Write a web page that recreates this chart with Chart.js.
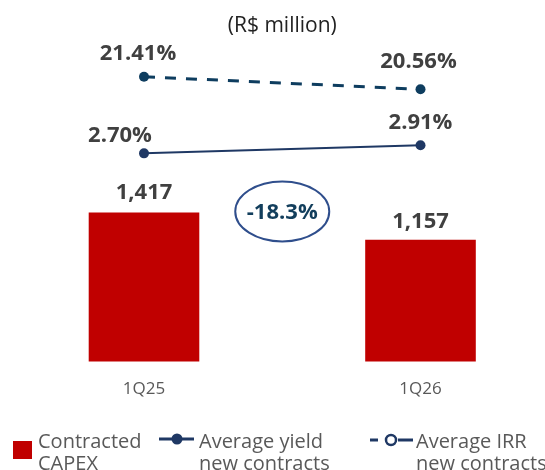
<!DOCTYPE html>
<html>
<head>
<meta charset="utf-8">
<script src="https://cdn.jsdelivr.net/npm/chart.js@4/dist/chart.umd.min.js"></script>
<style>
  html, body { margin: 0; padding: 0; background: #ffffff; }
  #wrap { width: 545px; height: 470px; position: relative; }
</style>
</head>
<body>
<div id="wrap"><canvas id="c"></canvas></div>
<script>
// Quarters compared
const categories = ['1Q25', '1Q26'];
// Contracted CAPEX, R$ million
const capex = [1417, 1157];
// Average yield of new contracts, %
const yieldPct = [2.70, 2.91];
// Average IRR of new contracts, %
const irrPct = [21.41, 20.56];
// Legend captions (two lines each)
const seriesNames = [['Contracted', 'CAPEX'], ['Average yield', 'new contracts'], ['Average IRR', 'new contracts']];

const FONT = '"Open Sans", "Noto Sans", sans-serif';
const RED = '#C00000';
const NAVY = '#1F3864';
const TEAL = '#0E3D5F';
const LABEL = '#404040';
const GREY = '#595959';

const fmtInt = v => v.toLocaleString('en-US');
const fmtPct = v => v.toFixed(2) + '%';

// Value labels above bars and points, with per-point nudges
const valueLabels = {
  id: 'valueLabels',
  afterDatasetsDraw(chart) {
    const { ctx } = chart;
    ctx.save();
    ctx.font = 'bold 22px ' + FONT;
    ctx.fillStyle = LABEL;
    ctx.textAlign = 'center';
    ctx.textBaseline = 'middle';
    chart.data.datasets.forEach((ds, di) => {
      const meta = chart.getDatasetMeta(di);
      const nudge = ds.labelNudge || [];
      meta.data.forEach((el, i) => {
        const [dx, dy] = nudge[i] || [0, -20];
        ctx.fillText(ds.formatter(ds.data[i]), el.x + dx, el.y + dy);
      });
    });
    ctx.restore();
  }
};

// Oval badge with the CAPEX change between the two quarters
const changeBadge = {
  id: 'changeBadge',
  afterDatasetsDraw(chart) {
    const { ctx } = chart;
    const x = chart.scales.x;
    const y = chart.scales.y;
    const cx = (x.getPixelForValue(0) + x.getPixelForValue(1)) / 2;
    const cy = y.getPixelForValue(Math.max(...capex)) - 1;
    const change = (capex[1] / capex[0] - 1) * 100;
    ctx.save();
    ctx.beginPath();
    ctx.ellipse(cx, cy, 47, 30, 0, 0, Math.PI * 2);
    ctx.lineWidth = 2;
    ctx.strokeStyle = '#2F4E8C';
    ctx.stroke();
    ctx.font = 'bold 22px ' + FONT;
    ctx.fillStyle = '#123E5C';
    ctx.textAlign = 'center';
    ctx.textBaseline = 'middle';
    ctx.fillText(change.toFixed(1) + '%', cx, cy + 1);
    ctx.restore();
  }
};

// Legend row along the bottom edge
const bottomLegend = {
  id: 'bottomLegend',
  afterDraw(chart) {
    const { ctx } = chart;
    const ds = chart.data.datasets;
    ctx.save();
    ctx.font = '20px ' + FONT;
    ctx.textAlign = 'left';
    ctx.textBaseline = 'alphabetic';
    const lines = (lbl, tx) => {
      ctx.fillStyle = GREY;
      ctx.fillText(lbl[0], tx, 448);
      ctx.fillText(lbl[1], tx, 470);
    };
    // bar swatch
    ctx.fillStyle = ds[0].backgroundColor;
    ctx.fillRect(13, 441, 19, 18);
    lines(seriesNames[0], 38);

    // solid line with filled marker
    ctx.strokeStyle = ds[1].borderColor;
    ctx.lineWidth = 3;
    ctx.beginPath(); ctx.moveTo(159, 439); ctx.lineTo(194, 439); ctx.stroke();
    ctx.beginPath(); ctx.arc(177, 439, 5.5, 0, Math.PI * 2);
    ctx.fillStyle = ds[1].borderColor; ctx.fill();
    lines(seriesNames[1], 199);

    // dashed line with open marker
    ctx.strokeStyle = NAVY;
    ctx.lineWidth = 3;
    ctx.beginPath(); ctx.moveTo(370, 440); ctx.lineTo(378, 440); ctx.stroke();
    ctx.beginPath(); ctx.moveTo(398, 440); ctx.lineTo(413, 440); ctx.stroke();
    ctx.beginPath(); ctx.arc(391, 440, 5, 0, Math.PI * 2);
    ctx.fillStyle = '#ffffff'; ctx.fill();
    ctx.lineWidth = 2.5; ctx.stroke();
    lines(seriesNames[2], 416);
    ctx.restore();
  }
};

new Chart(document.getElementById('c'), {
  data: {
    labels: categories,
    datasets: [
      {
        type: 'bar',
        label: seriesNames[0].join(' '),
        data: capex,
        backgroundColor: RED,
        barPercentage: 0.4,
        categoryPercentage: 1,
        yAxisID: 'y',
        clip: false,
        order: 3,
        formatter: fmtInt,
        labelNudge: [[0, -20], [0, -18]]
      },
      {
        type: 'line',
        label: seriesNames[1].join(' '),
        data: yieldPct,
        borderColor: NAVY,
        backgroundColor: NAVY,
        borderWidth: 2,
        pointRadius: 5,
        pointBackgroundColor: NAVY,
        pointBorderWidth: 0,
        yAxisID: 'y1',
        clip: false,
        order: 1,
        formatter: fmtPct,
        labelNudge: [[-24, -18], [0, -23]]
      },
      {
        type: 'line',
        label: seriesNames[2].join(' '),
        data: irrPct,
        borderColor: TEAL,
        backgroundColor: TEAL,
        borderWidth: 3,
        borderDash: [11, 10],
        pointRadius: 5,
        pointBackgroundColor: TEAL,
        pointBorderWidth: 0,
        yAxisID: 'y2',
        clip: false,
        order: 2,
        formatter: fmtPct,
        labelNudge: [[-6, -23], [-2, -28]]
      }
    ]
  },
  options: {
    responsive: true,
    maintainAspectRatio: false,
    animation: false,
    devicePixelRatio: 1,
    layout: { padding: { left: 144, right: 124.5, top: 0, bottom: 54 } },
    plugins: {
      legend: { display: false },
      tooltip: { enabled: false },
      title: {
        display: true,
        text: '(R$ million)',
        color: '#222222',
        font: { family: FONT, size: 21, weight: 'normal' },
        padding: { top: 13, bottom: 0 }
      }
    },
    scales: {
      x: {
        type: 'category',
        offset: false,
        grid: { display: false, drawTicks: false },
        border: { display: false },
        ticks: { color: GREY, padding: 17, font: { family: FONT, size: 17 } }
      },
      y: { display: false, min: 0, max: 3073 },
      y1: { display: false, min: -2.725, max: 5.70 },
      y2: { display: false, min: 2.05, max: 24.03 }
    }
  },
  plugins: [valueLabels, changeBadge, bottomLegend]
});
</script>
</body>
</html>
